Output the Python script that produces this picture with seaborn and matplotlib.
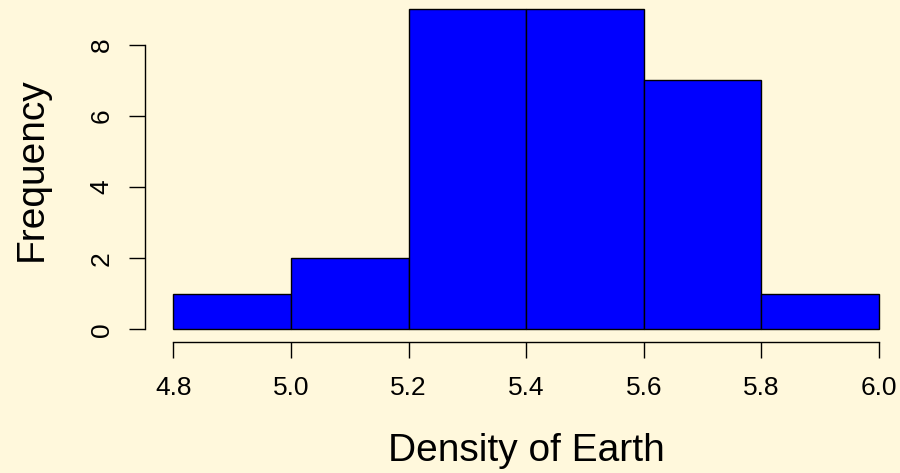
import matplotlib
matplotlib.use("Agg")
import matplotlib.pyplot as plt
import seaborn as sns
import numpy as np

# Histogram of measured densities of the Earth
bin_edges = [4.8, 5.0, 5.2, 5.4, 5.6, 5.8, 6.0]
counts = [1, 2, 9, 9, 7, 1]
x_ticks = [4.8, 5.0, 5.2, 5.4, 5.6, 5.8, 6.0]
x_tick_labels = ["4.8", "5.0", "5.2", "5.4", "5.6", "5.8", "6.0"]
y_ticks = [0, 2, 4, 6, 8]
y_tick_labels = ["0", "2", "4", "6", "8"]

bg = "#FFF8DC"
sns.set_style("white")
plt.rcParams["font.family"] = ["Liberation Sans", "DejaVu Sans"]
plt.rcParams["text.color"] = "black"
plt.rcParams["axes.labelcolor"] = "black"
plt.rcParams["xtick.color"] = "black"
plt.rcParams["ytick.color"] = "black"

W, H = 900, 473
fig = plt.figure(figsize=(W / 100, H / 100), dpi=100, facecolor=bg)

# plot region in pixels (left, right, bottom, top)
px_l, px_r, px_b, px_t = 145.1, 907.2, 342.1, -3.4
ax = fig.add_axes([px_l / W, (H - px_b) / H, (px_r - px_l) / W, (px_b - px_t) / H])
ax.set_facecolor(bg)

centers = [(a + b) / 2 for a, b in zip(bin_edges[:-1], bin_edges[1:])]
sns.histplot(x=centers, weights=counts, bins=bin_edges, color="#0000FF",
             edgecolor="black", linewidth=1.0, alpha=1, ax=ax)

# axis limits padded 4% on each side
xr = bin_edges[-1] - bin_edges[0]
ax.set_xlim(bin_edges[0] - 0.04 * xr, bin_edges[-1] + 0.04 * xr)
yr = max(counts)
ax.set_ylim(-0.04 * yr, yr + 0.04 * yr)

for s in ["top", "right"]:
    ax.spines[s].set_visible(False)
ax.spines["left"].set_bounds(y_ticks[0], y_ticks[-1])
ax.spines["bottom"].set_bounds(x_ticks[0], x_ticks[-1])
for s in ["left", "bottom"]:
    ax.spines[s].set_linewidth(1.0)
    ax.spines[s].set_color("black")

ax.set_xticks(x_ticks, x_tick_labels)
ax.set_yticks(y_ticks, y_tick_labels)
ax.tick_params(axis="both", direction="out", length=11.5, width=1.0,
               colors="black", labelsize=19, bottom=True, left=True)
ax.tick_params(axis="x", pad=13)
ax.tick_params(axis="y", pad=11, labelrotation=90)
for lab in ax.get_yticklabels():
    lab.set_va("center")

ax.set_xlabel("Density of Earth", fontsize=28, color="black")
ax.set_ylabel("Frequency", fontsize=28, color="black")
ax.xaxis.set_label_coords(0.5, (px_b - 451) / (px_b - px_t))
ax.xaxis.label.set_va("center")
ax.yaxis.set_label_coords((32 - px_l) / (px_r - px_l), 0.5)
ax.yaxis.label.set_va("center")
ax.grid(False)

fig.savefig("out.png", dpi=100, facecolor=bg)
